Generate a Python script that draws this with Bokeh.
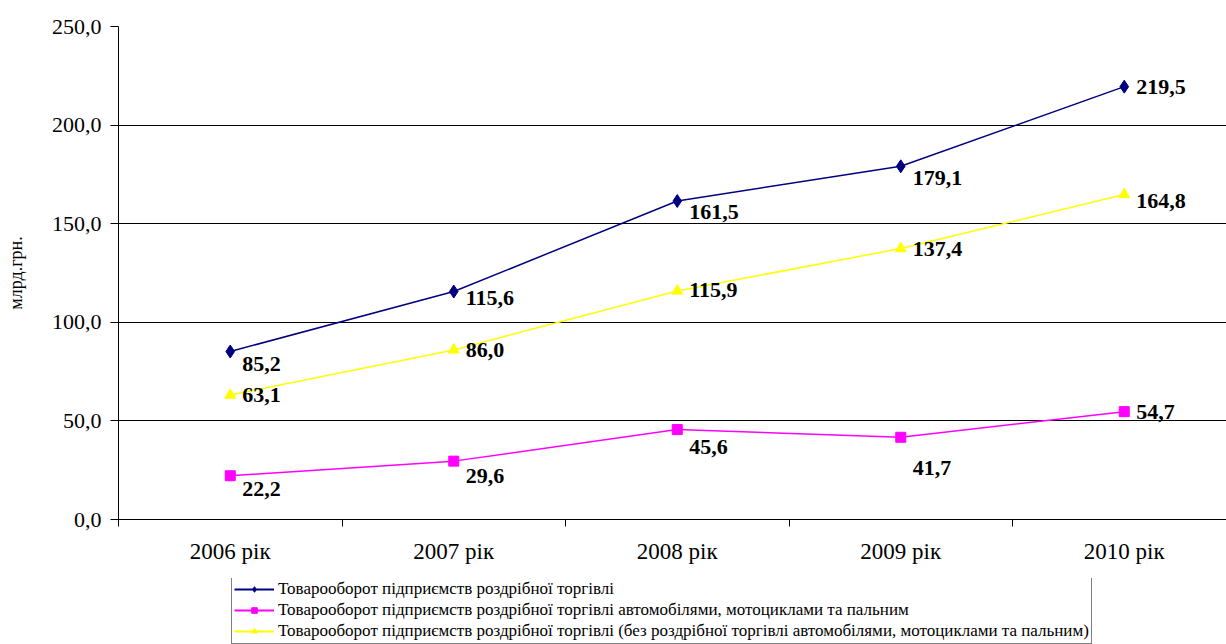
from bokeh.plotting import figure
from bokeh.layouts import column
from bokeh.models import (ColumnDataSource, FixedTicker, Legend, LegendItem, LinearAxis, Range1d, Grid)
from bokeh.embed import file_html
from bokeh.resources import INLINE
from bokeh.core.properties import value

years = ["2006 рік", "2007 рік", "2008 рік", "2009 рік", "2010 рік"]
retail_total = [85.2, 115.6, 161.5, 179.1, 219.5]
retail_auto = [22.2, 29.6, 45.6, 41.7, 54.7]
retail_other = [63.1, 86.0, 115.9, 137.4, 164.8]
y_ticks = [0, 50, 100, 150, 200, 250]
y_tick_labels = ["0,0", "50,0", "100,0", "150,0", "200,0", "250,0"]
series_names = [
    "Товарооборот підприємств роздрібної торгівлі",
    "Товарооборот підприємств роздрібної торгівлі автомобілями, мотоциклами та пальним",
    "Товарооборот підприємств роздрібної торгівлі (без роздрібної торгівлі автомобілями, мотоциклами та пальним)",
]
y_label = "млрд.грн."

# label vertical offsets (screen px), style only
off_total = [13, 6, 11, 12, 0]
off_auto = [13, 15, 17, 31, 0]
off_other = [0, 0, -1, 0, 6]

SERIF = "Liberation Serif"
xs = [i + 0.5 for i in range(len(years))]

p = figure(frame_width=1108, frame_height=493, output_backend="svg", toolbar_location=None,
           x_range=Range1d(0, 1108 / 223.5), y_range=Range1d(0, 250),
           min_border_left=118, min_border_top=26, min_border_right=0, min_border_bottom=59,
           x_axis_type=None, y_axis_type=None)
p.outline_line_color = None
p.background_fill_color = "white"
p.border_fill_color = "white"

# y axis
yax = LinearAxis(ticker=FixedTicker(ticks=y_ticks))
yax.major_label_overrides = {t: l for t, l in zip(y_ticks, y_tick_labels)}
yax.major_label_text_font = SERIF
yax.major_label_text_font_size = "22px"
yax.major_label_text_color = "black"
yax.major_tick_out = 8
yax.major_tick_in = 0
yax.minor_tick_out = 0
yax.major_label_standoff = 9
yax.axis_line_color = "black"
yax.major_tick_line_color = "black"
yax.axis_label = y_label
yax.axis_label_text_font = SERIF
yax.axis_label_text_font_size = "18px"
yax.axis_label_text_font_style = "normal"
yax.axis_label_text_color = "black"
yax.axis_label_standoff = 23
p.add_layout(yax, "left")

# x axis: labels at centers, tick marks at category boundaries
xax = LinearAxis(ticker=FixedTicker(ticks=xs, minor_ticks=list(range(len(years) + 1))))
xax.major_label_overrides = {x: l for x, l in zip(xs, years)}
xax.major_label_text_font = SERIF
xax.major_label_text_font_size = "23px"
xax.major_label_text_color = "black"
xax.major_tick_out = 0
xax.major_tick_in = 0
xax.minor_tick_out = 7
xax.minor_tick_in = 0
xax.minor_tick_line_color = "black"
xax.major_label_standoff = 12
xax.axis_line_color = "black"
p.add_layout(xax, "below")

# grid lines
p.ygrid.visible = False
g = Grid(dimension=1, ticker=FixedTicker(ticks=y_ticks[1:]), grid_line_color="black", grid_line_width=1)
p.add_layout(g)

# legend panel (separate figure beneath the chart); its data range is kept away
# from the series values so only the legend itself is visible
pl = figure(frame_width=1108, frame_height=66, output_backend="svg", toolbar_location=None,
            x_range=Range1d(0, 1108 / 223.5), y_range=Range1d(-2, -1),
            min_border_left=118, min_border_top=0, min_border_right=0, min_border_bottom=0,
            x_axis_type=None, y_axis_type=None)
pl.outline_line_color = None
pl.grid.visible = False
pl.border_fill_color = "white"
pl.background_fill_color = "white"

items = []
specs = [
    (retail_total, "#000080", "diamond", 13, 11, off_total, series_names[0]),
    (retail_auto, "#FF00FF", "square", 10, 9, off_auto, series_names[1]),
    (retail_other, "#FFFF00", "triangle", 11, 10, off_other, series_names[2]),
]
for vals, col, mk, sz, lsz, offs, name in specs:
    src = ColumnDataSource(dict(x=xs, y=vals, lab=[f"{v:.1f}".replace(".", ",") for v in vals], off=offs))
    p.line("x", "y", source=src, line_color=col, line_width=1.5)
    p.scatter("x", "y", source=src, marker=mk, size=sz, fill_color=col, line_color=col)
    p.text("x", "y", text="lab", source=src, x_offset=12, y_offset="off",
           text_font=value(SERIF), text_font_style="bold", text_font_size="22px",
           text_align="left", text_baseline="middle", text_color="black")
    l1 = pl.line("x", "y", source=src, line_color=col, line_width=2)
    l2 = pl.scatter("x", "y", source=src, marker=mk, size=lsz, fill_color=col, line_color=col)
    items.append(LegendItem(label=name, renderers=[l1, l2]))

legend = Legend(items=items, location=(113, 0), orientation="vertical")
legend.label_text_font = SERIF
legend.label_text_font_size = "17px"
legend.label_text_color = "black"
legend.glyph_width = 40
legend.glyph_height = 14
legend.label_height = 20
legend.spacing = 1
legend.padding = 2
legend.margin = 0
legend.label_standoff = 4
legend.border_line_color = "black"
legend.border_line_width = 1
legend.background_fill_alpha = 1
pl.add_layout(legend, "center")

layout = column(p, pl, spacing=0)
open("out.html", "w").write(file_html(layout, INLINE))
